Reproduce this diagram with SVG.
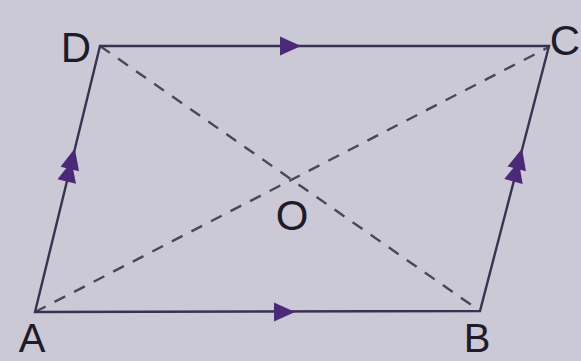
<svg xmlns="http://www.w3.org/2000/svg" width="581" height="361" viewBox="0 0 581 361">
<defs>
<style>
.edge{stroke:#3b3150;stroke-width:2.4;fill:none;stroke-linecap:round}
.diag{stroke:#4b4560;stroke-width:2.4;fill:none;stroke-dasharray:12 10}
.lbl{font-family:"Liberation Sans",Arial,sans-serif;font-size:42px;fill:#1f1b2a;text-anchor:middle}
.lbl2{font-size:40px}
.arr{fill:#4a2a78}
</style>
<path id="tri" d="M-10,-9.5 L11,0 L-10,9.5 Z"/>
<g id="dbl"><use href="#tri" x="-6"/><use href="#tri" x="7"/></g>
</defs>
<rect width="581" height="361" fill="#cbc9d5"/>
<g id="connectors">
<line class="diag" x1="35" y1="312" x2="549" y2="47"/>
<line class="diag" x1="100" y1="46" x2="480" y2="311"/>
<path class="edge" d="M35,312 L100,46 L549,46 L480,311 Z"/>
<use href="#tri" class="arr" transform="translate(290,46)"/>
<use href="#tri" class="arr" transform="translate(284,312)"/>
<use href="#dbl" class="arr" transform="translate(70.5,166) rotate(-76.3)"/>
<use href="#dbl" class="arr" transform="translate(517.5,166) rotate(-75.35)"/>
</g>
<g id="node-D"><text class="lbl" x="76" y="62">D</text></g>
<g id="node-C"><text class="lbl" x="565" y="55">C</text></g>
<g id="node-A"><text class="lbl lbl2" x="32" y="352">A</text></g>
<g id="node-B"><text class="lbl lbl2" x="477" y="352">B</text></g>
<g id="node-O"><text class="lbl" x="292" y="230">O</text></g>
</svg>
